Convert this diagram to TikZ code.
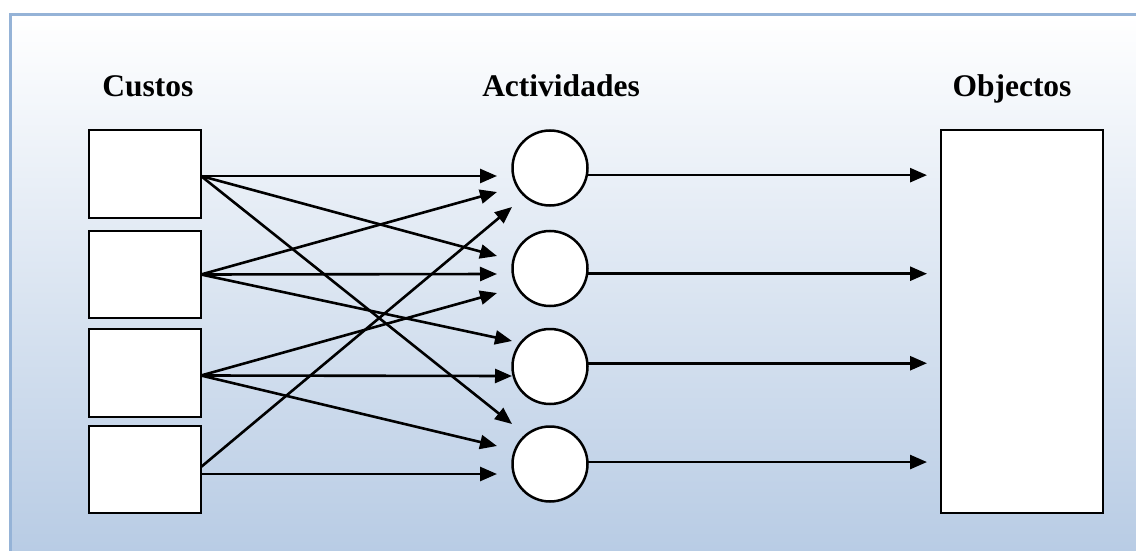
\documentclass[tikz,border=0pt]{standalone}
\usepackage{fontspec}
\setmainfont{Liberation Serif}
\usetikzlibrary{arrows.meta}
\definecolor{frameblue}{RGB}{149,179,215}
\definecolor{shadebottom}{RGB}{183,203,228}
\tikzset{
  costbox/.style={draw, line width=2.5pt, fill=white, inner sep=0pt, outer sep=0pt,
                  minimum width=112pt, minimum height=88pt},
  actcircle/.style={circle, draw, line width=2.5pt, fill=white, inner sep=0pt, outer sep=0pt,
                  minimum size=75pt},
  objbox/.style={draw, line width=2.5pt, fill=white, inner sep=0pt, outer sep=0pt,
                  minimum width=162pt, minimum height=383pt},
  heading/.style={font=\bfseries\fontsize{31.5}{36}\selectfont, anchor=base},
  flow/.style={line width=2.6pt, -{Triangle[length=17pt,width=14pt]}}
}
\begin{document}
\begin{tikzpicture}[x=1pt, y=-1pt]
  \clip (0,0) rectangle (1136,551);
  % page background and shaded panel
  \fill[white] (0,0) rectangle (1136,551);
  \shade[top color=white, bottom color=shadebottom] (10,15) rectangle (1145,560);
  \draw[frameblue, line width=3pt] (10,560) -- (10,15) -- (1145,15);

  % column headings
  \node[heading] (hcost) at (148,96) {Custos};
  \node[heading] (hact)  at (561,96) {Actividades};
  \node[heading] (hobj)  at (1012,96) {Objectos};

  % cost pools
  \node[costbox] (k1) at (145,174)   {};
  \node[costbox, minimum height=87pt] (k2) at (145,274.5) {};
  \node[costbox] (k3) at (145,373)   {};
  \node[costbox, minimum height=87pt] (k4) at (145,469.5) {};

  % activities
  \node[actcircle] (a1) at (550,168)   {};
  \node[actcircle] (a2) at (550,268.5) {};
  \node[actcircle] (a3) at (550,366.5) {};
  \node[actcircle] (a4) at (550,464)   {};

  % cost objects
  \node[objbox] (obj) at (1022,321.5) {};

  % start points on the cost pools
  \coordinate (s1)  at ([yshift=-2pt]k1.east);
  \coordinate (s2)  at (k2.east);
  \coordinate (s3)  at ([yshift=-2.5pt]k3.east);
  \coordinate (s4u) at ([yshift=2.5pt]k4.east);
  \coordinate (s4d) at ([yshift=-4.5pt]k4.east);

  % arrow tips in front of the activities
  \coordinate (t11) at (497,176);
  \coordinate (t21) at (497,192);
  \coordinate (t41) at (512,207);
  \coordinate (t12) at (497,256);
  \coordinate (t22) at (497,274);
  \coordinate (t32) at (497,293);
  \coordinate (t23) at (512,341);
  \coordinate (t33) at (512,376);
  \coordinate (t14) at (512,424);
  \coordinate (t34) at (497,446);
  \coordinate (t44) at (497,474);

  % resource drivers
  \draw[flow] (s1) -- (t11);
  \draw[flow] (s1) -- (t12);
  \draw[flow] (s1) -- (t14);
  \draw[flow] (s2) -- (t21);
  \draw[flow] (s2) -- (t22);
  \draw[flow] (s2) -- (t23);
  \draw[flow] (s3) -- (t32);
  \draw[flow] (s3) -- (t33);
  \draw[flow] (s3) -- (t34);
  \draw[flow] (s4u) -- (t41);
  \draw[flow] (s4d) -- (t44);

  % activity drivers
  \draw[flow, shorten >=14pt] (a1.-11) -- (a1.-11 -| obj.west);
  \draw[flow, shorten >=14pt] (a2.-8)  -- (a2.-8 -| obj.west);
  \draw[flow, shorten >=14pt] (a3.5)   -- (a3.5 -| obj.west);
  \draw[flow, shorten >=14pt] (a4.3)   -- (a4.3 -| obj.west);
\end{tikzpicture}
\end{document}
